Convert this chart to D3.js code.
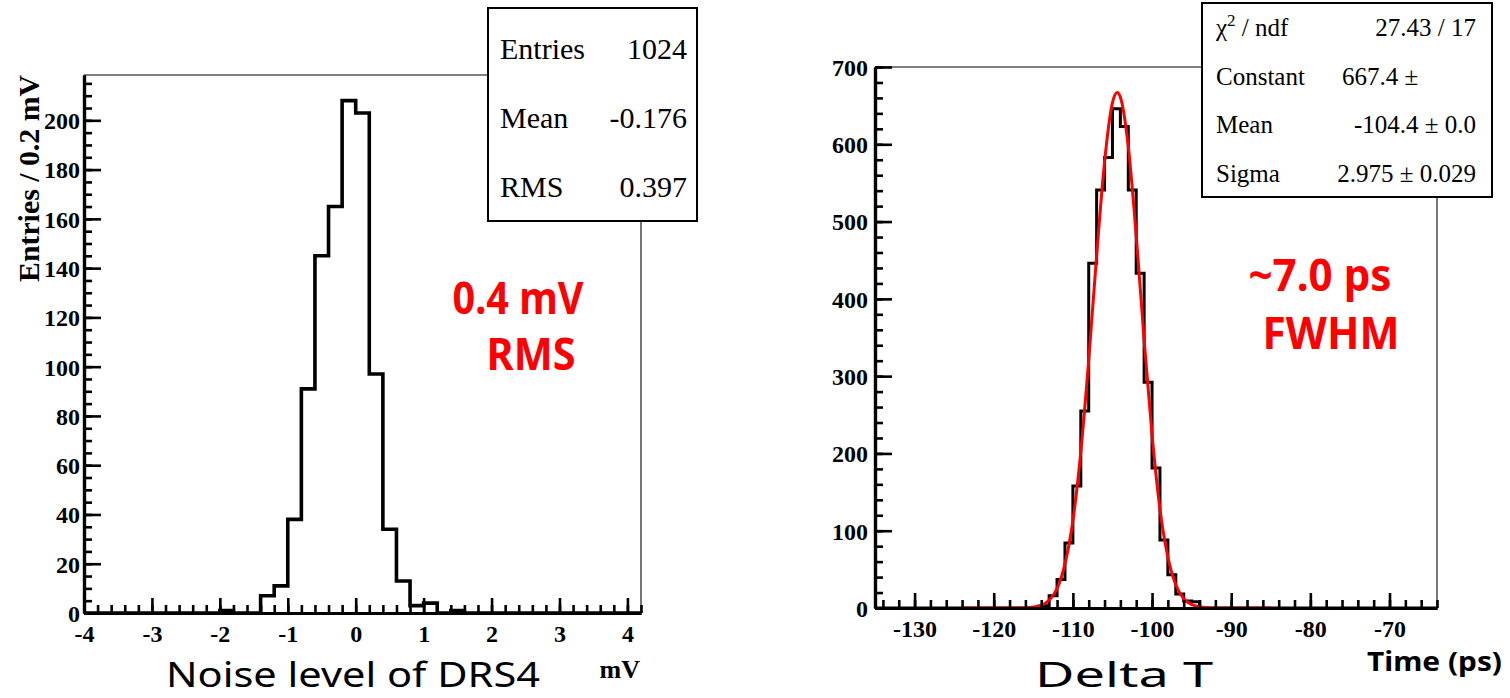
<!DOCTYPE html>
<html><head><meta charset="utf-8">
<script src="https://cdn.jsdelivr.net/npm/d3@7"></script>
<style>body{margin:0;background:#fff;} svg{display:block;}</style>
</head><body>
<svg id="c" width="1510" height="698"></svg>
<script>
// ---------------- DATA ----------------
// Left: noise histogram (0.2 mV bins), non-empty bins given by lower edge
const noiseBinLow   = [-2.0, -1.4, -1.2, -1.0, -0.8, -0.6, -0.4, -0.2, 0.0, 0.2, 0.4, 0.6, 0.8, 1.0, 1.4];
const noiseCounts   = [1, 7, 11, 38, 91, 145, 165, 208, 203, 97, 34, 13, 3, 4, 1];
const noiseRange    = [-4, 4.2];
const noiseBinWidth = 0.2;
const noiseYMax     = 218.4;
const noiseXTicks   = [-4, -3, -2, -1, 0, 1, 2, 3, 4];
const noiseYTicks   = [0, 20, 40, 60, 80, 100, 120, 140, 160, 180, 200];
const noiseStatLabels = ["Entries", "Mean", "RMS"];
const noiseStatValues = ["1024", "-0.176", "0.397"];

// Right: Delta T histogram (1 ps bins)
const dtBinLow   = [-114, -113, -112, -111, -110, -109, -108, -107, -106, -105, -104, -103, -102, -101, -100, -99, -98, -97, -96, -95];
const dtCounts   = [3, 16, 37, 84, 158, 255, 446, 541, 583, 646, 623, 541, 433, 292, 181, 88, 43, 18, 9, 8];
const dtRange    = [-135, -64];
const dtBinWidth = 1;
const dtYMax     = 700;
const dtXTicks   = [-130, -120, -110, -100, -90, -80, -70];
const dtYTicks   = [0, 100, 200, 300, 400, 500, 600, 700];
// Red fit curve
const fitX = [-124, -120, -118, -116, -115, -114, -113, -112, -111, -110, -109, -108, -107, -106, -105, -104.4, -104, -103, -102, -101, -100, -99, -98, -97, -96, -95, -94, -93, -92, -90, -85];
const fitY = [0, 0, 0, 0.3, 1.2, 3.6, 10, 25, 57, 113, 202, 321, 456, 577, 654, 667, 661, 597, 482, 347, 224, 128, 66, 30, 12, 4.5, 1.5, 0.4, 0.1, 0, 0];
const fitStatLabels = ["χ2 / ndf", "Constant", "Mean", "Sigma"];
const fitStatValues = ["27.43 / 17", "667.4 ±", "-104.4 ± 0.0", "2.975 ± 0.029"];

// ---------------- DRAW ----------------
const svg = d3.select("#c");
svg.append("rect").attr("width", 1510).attr("height", 698).attr("fill", "#fff");
const SERIF = "'Liberation Serif', 'DejaVu Serif', serif";
const SANS = "'Noto Sans', 'Open Sans', sans-serif";

function stepPoints(lows, counts, width, range) {
  const n = Math.round((range[1] - range[0]) / width);
  const full = new Array(n).fill(0);
  lows.forEach((lo, i) => { full[Math.round((lo - range[0]) / width)] = counts[i]; });
  const pts = [[range[0], 0]];
  full.forEach((c, i) => {
    const e = range[0] + i * width;
    pts.push([e, c], [e + width, c]);
  });
  pts.push([range[1], 0]);
  return pts;
}

function drawPanel(cfg) {
  const g = svg.append("g");
  const x = d3.scaleLinear().domain(cfg.xDomain).range(cfg.xRange);
  const y = d3.scaleLinear().domain(cfg.yDomain).range(cfg.yRange);
  const [x0, x1] = cfg.xRange, [y0, y1] = cfg.yRange;
  // thin frame (top + right)
  g.append("path").attr("d", `M${x0},${y1}H${x1}V${y0}`)
    .attr("fill", "none").attr("stroke", "#555").attr("stroke-width", 1.6);
  // histogram outline
  const pts = stepPoints(cfg.lows, cfg.counts, cfg.binWidth, cfg.xDomain);
  g.append("path").datum(pts)
    .attr("d", d3.line().x(d => x(d[0])).y(d => y(d[1])))
    .attr("fill", "none").attr("stroke", "#000").attr("stroke-width", cfg.histWidth)
    .attr("stroke-linejoin", "miter");
  if (cfg.fit) {
    g.append("path").datum(cfg.fit)
      .attr("d", d3.line().x(d => x(d[0])).y(d => y(d[1])).curve(d3.curveMonotoneX))
      .attr("fill", "none").attr("stroke", "#ff0000").attr("stroke-width", 3);
  }
  const fmt = d => String(d);
  // minor ticks
  const gxm = g.append("g").attr("transform", `translate(0,${y0})`)
    .call(d3.axisBottom(x).tickValues(cfg.xMinor).tickSize(-8).tickSizeOuter(0).tickFormat(""));
  const gym = g.append("g").attr("transform", `translate(${x0},0)`)
    .call(d3.axisLeft(y).tickValues(cfg.yMinor).tickSize(-8).tickSizeOuter(0).tickFormat(""));
  // major ticks
  const gx = g.append("g").attr("transform", `translate(0,${y0})`)
    .call(d3.axisBottom(x).tickValues(cfg.xTicks).tickSize(-15).tickSizeOuter(0).tickPadding(cfg.xPad).tickFormat(fmt));
  const gy = g.append("g").attr("transform", `translate(${x0},0)`)
    .call(d3.axisLeft(y).tickValues(cfg.yTicks).tickSize(-17).tickSizeOuter(0).tickPadding(cfg.yPad).tickFormat(fmt));
  [gxm, gym, gx, gy].forEach(a => {
    a.selectAll("line").attr("stroke", "#000").attr("stroke-width", 2.6);
    a.select(".domain").attr("stroke", "#000").attr("stroke-width", 3.2);
  });
  [gx, gy].forEach(a => a.selectAll("text")
    .attr("font-family", SERIF).attr("font-weight", "bold")
    .attr("font-size", cfg.tickFont).attr("fill", "#000"));
  gx.selectAll("text").attr("dy", "0.32em");
  gy.selectAll("text").attr("dy", "0.35em");
  return { x, y, g };
}

// ---- Left panel ----
const L = drawPanel({
  xDomain: noiseRange, xRange: [84, 641], yDomain: [0, noiseYMax], yRange: [613, 75],
  lows: noiseBinLow, counts: noiseCounts, binWidth: noiseBinWidth, histWidth: 3.6,
  xTicks: noiseXTicks, yTicks: noiseYTicks,
  xMinor: d3.range(-4, 4.21, 0.2), yMinor: d3.range(0, 216, 5),
  tickFont: 24, yPad: 4, xPad: 21
});
// y title
svg.append("text").attr("transform", "translate(39,75) rotate(-90)")
  .attr("text-anchor", "end").attr("font-family", SERIF).attr("font-weight", "bold")
  .attr("font-size", 29).attr("textLength", 207).attr("lengthAdjust", "spacingAndGlyphs")
  .text("Entries / 0.2 mV");
svg.append("text").attr("x", 640).attr("y", 678).attr("text-anchor", "end")
  .attr("font-family", SERIF).attr("font-weight", "bold").attr("font-size", 26).text("mV");
// stat box
const lb = svg.append("g");
lb.append("rect").attr("x", 488).attr("y", 8).attr("width", 209).attr("height", 213)
  .attr("fill", "#fff").attr("stroke", "#000").attr("stroke-width", 2);
noiseStatLabels.forEach((t, i) => {
  lb.append("text").attr("x", 500).attr("y", 59 + i * 69).attr("font-family", SERIF)
    .attr("font-size", 30).text(t);
  lb.append("text").attr("x", 687).attr("y", 59 + i * 69).attr("text-anchor", "end")
    .attr("font-family", SERIF).attr("font-size", 30).text(noiseStatValues[i]);
});
svg.append("text").attr("x", 518).attr("y", 314).attr("text-anchor", "middle")
  .attr("font-family", SANS).attr("font-weight", "bold").attr("font-size", 45).attr("fill", "#ff0000")
  .attr("textLength", 131).attr("lengthAdjust", "spacingAndGlyphs").text("0.4 mV");
svg.append("text").attr("x", 531).attr("y", 370).attr("text-anchor", "middle")
  .attr("font-family", SANS).attr("font-weight", "bold").attr("font-size", 45).attr("fill", "#ff0000")
  .attr("textLength", 89).attr("lengthAdjust", "spacingAndGlyphs").text("RMS");
svg.append("text").attr("x", 353).attr("y", 687).attr("text-anchor", "middle")
  .attr("font-family", SANS).attr("font-size", 35)
  .attr("textLength", 374).attr("lengthAdjust", "spacingAndGlyphs").text("Noise level of DRS4");

// ---- Right panel ----
const R = drawPanel({
  xDomain: dtRange, xRange: [875, 1437], yDomain: [0, dtYMax], yRange: [608, 67],
  lows: dtBinLow, counts: dtCounts, binWidth: dtBinWidth, histWidth: 3,
  fit: fitX.map((v, i) => [v, fitY[i]]),
  xTicks: dtXTicks, yTicks: dtYTicks,
  xMinor: d3.range(-134, -63, 2), yMinor: d3.range(0, 701, 20),
  tickFont: 24, yPad: 7, xPad: 21
});
svg.append("text").attr("x", 1502).attr("y", 671).attr("text-anchor", "end")
  .attr("font-family", SANS).attr("font-weight", "bold").attr("font-size", 27)
  .attr("textLength", 135).attr("lengthAdjust", "spacingAndGlyphs").text("Time (ps)");
const rb = svg.append("g");
rb.append("rect").attr("x", 1202).attr("y", 3).attr("width", 290).attr("height", 194)
  .attr("fill", "#fff").attr("stroke", "#000").attr("stroke-width", 2);
fitStatLabels.forEach((t, i) => {
  const yy = 36 + i * 48.5;
  const lt = rb.append("text").attr("x", 1216).attr("y", yy).attr("font-family", SERIF).attr("font-size", 25);
  if (t.startsWith("χ2")) {
    lt.append("tspan").text("χ");
    lt.append("tspan").attr("dy", -10).attr("font-size", 17).text("2");
    lt.append("tspan").attr("dy", 10).text(" / ndf");
  } else lt.text(t);
  const v = fitStatValues[i];
  if (t === "Constant") {
    rb.append("text").attr("x", 1342).attr("y", yy).attr("font-family", SERIF).attr("font-size", 25).text(v);
  } else {
    rb.append("text").attr("x", 1476).attr("y", yy).attr("text-anchor", "end")
      .attr("font-family", SERIF).attr("font-size", 25).text(v);
  }
});
svg.append("text").attr("x", 1320).attr("y", 291).attr("text-anchor", "middle")
  .attr("font-family", SANS).attr("font-weight", "bold").attr("font-size", 45).attr("fill", "#ff0000")
  .attr("textLength", 143).attr("lengthAdjust", "spacingAndGlyphs").text("~7.0 ps");
svg.append("text").attr("x", 1331).attr("y", 349).attr("text-anchor", "middle")
  .attr("font-family", SANS).attr("font-weight", "bold").attr("font-size", 45).attr("fill", "#ff0000")
  .attr("textLength", 137).attr("lengthAdjust", "spacingAndGlyphs").text("FWHM");
svg.append("text").attr("x", 1124).attr("y", 687).attr("text-anchor", "middle")
  .attr("font-family", SANS).attr("font-size", 35)
  .attr("textLength", 178).attr("lengthAdjust", "spacingAndGlyphs").text("Delta T");
</script>
</body></html>
